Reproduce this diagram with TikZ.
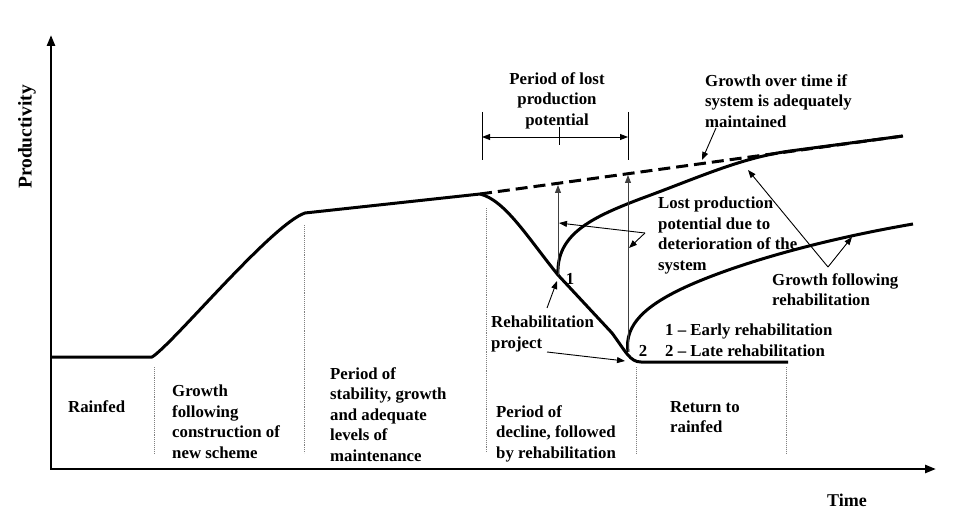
\documentclass[tikz,border=0pt]{standalone}
\usepackage{fontspec}
\setmainfont{Liberation Serif}
\usetikzlibrary{arrows.meta, positioning}

\begin{document}
\begin{tikzpicture}[
    x=1pt, y=-1pt,
    note/.style={
        font=\fontsize{16.8}{20.5}\selectfont\bfseries,
        align=left,
        inner sep=0pt
    },
    curve/.style={
        line width=3pt,
        line join=round
    },
    axis/.style={
        line width=2.5pt,
        {Triangle[length=11pt,width=8pt]}-{Triangle[length=11pt,width=8pt]}
    },
    pointer/.style={
        line width=0.9pt,
        -{Triangle[length=8pt,width=6pt]}
    },
    divider/.style={
        gray,
        line width=0.9pt,
        densely dotted
    }
]
\useasboundingbox (0,0) rectangle (959,516);

% axes
\coordinate (origin) at (51,469);
\coordinate (ytop) at (51,35);
\coordinate (xend) at (936,469);
\draw[axis] (ytop) -- (origin) -- (xend);
\node[note, font=\fontsize{19.5}{22}\selectfont\bfseries, rotate=90] (prod) at (27,137) {Productivity};
\node[note, font=\fontsize{18}{21}\selectfont\bfseries] (time) at (847,500) {Time};

% phase dividers
\foreach \xd/\yd in {154/367, 304/225, 486/208, 636/367, 786/367}
    \draw[divider] (\xd,\yd) -- (\xd,453);

% productivity curves
\coordinate (p1) at (558,275);
\coordinate (p2) at (628,352);
\draw[curve, dash pattern=on 12pt off 6pt] (480,194) -- (903,136);
\draw[curve] (51,357) -- (152,357)
    .. controls (172,345) and (272,224) .. (305,213) -- (480,194)
    .. controls (505,200) and (528,238) .. (p1)
    -- (612,333) .. controls (626,352) and (630,362) .. (641,362) -- (788,362);
\draw[curve] (p1) .. controls (556,235) and (590,218) .. (640,199)
    .. controls (700,177) and (740,158) .. (790,151) -- (903,136);
\draw[curve] (p2) .. controls (624,325) and (645,305) .. (690,285)
    .. controls (740,263) and (820,240) .. (913,224);

% lost production potential
\coordinate (d1) at (558,185);
\coordinate (d2) at (628,175);
\draw[pointer, black!75] (p1) -- (d1);
\draw[pointer, black!75] (p2) -- (d2);

\node[note, align=center, anchor=north] (lost) at (557,72)
{Period of lost\\production\\potential};
\coordinate (pl) at (482,137);
\coordinate (pr) at (628,137);
\draw[line width=0.9pt] (482,112) -- (482,160);
\draw[line width=0.9pt] (628,112) -- (628,160);
\draw[line width=0.9pt] (559,127) -- (559,145);
\draw[line width=0.9pt, {Triangle[length=8pt,width=6pt]}-{Triangle[length=8pt,width=6pt]}] (pl) -- (pr);

\node[note, anchor=north west] (maint) at (705,74)
{Growth over time if\\system is adequately\\maintained};
\coordinate (mt) at (716,128);
\coordinate (mh) at (702,160);
\draw[pointer] (mt) -- (mh);

\node[note, anchor=north west] (deter) at (658,197)
{Lost production\\potential due to\\deterioration of the\\system};
\coordinate (dv) at (645,233);
\coordinate (dh1) at (559,223);
\coordinate (dh2) at (629,248);
\draw[pointer] (dv) -- (dh1);
\draw[pointer] (dv) -- (dh2);

\node[note, anchor=north west] (growth) at (772,273)
{Growth following\\rehabilitation};
\coordinate (gv) at (828,267);
\coordinate (gh1) at (852,237);
\coordinate (gh2) at (748,170);
\draw[pointer] (gv) -- (gh1);
\draw[pointer] (gv) -- (gh2);

\node[note, anchor=north west] (rehab) at (491,316)
{Rehabilitation\\project};
\coordinate (rt1) at (547,308);
\coordinate (rh1) at (557,281);
\coordinate (rt2) at (547,352);
\coordinate (rh2) at (625,361);
\draw[pointer] (rt1) -- (rh1);
\draw[pointer] (rt2) -- (rh2);

\node[note] (one) at (570,279) {1};
\node[note] (two) at (643,351) {2};
\node[note, anchor=north west] (legend) at (665,324)
{1 -- Early rehabilitation\\2 -- Late rehabilitation};

% phases
\node[note, anchor=north west] (rainfed) at (68,400) {Rainfed};
\node[note, anchor=north west] (constr) at (172,385)
{Growth\\following\\construction of\\new scheme};
\node[note, anchor=north west] (stab) at (330,367)
{Period of\\stability, growth\\and adequate\\levels of\\maintenance};
\node[note, anchor=north west] (decl) at (496,405)
{Period of\\decline, followed\\by rehabilitation};
\node[note, anchor=north west] (ret) at (670,401)
{Return to\\rainfed};

\end{tikzpicture}
\end{document}
